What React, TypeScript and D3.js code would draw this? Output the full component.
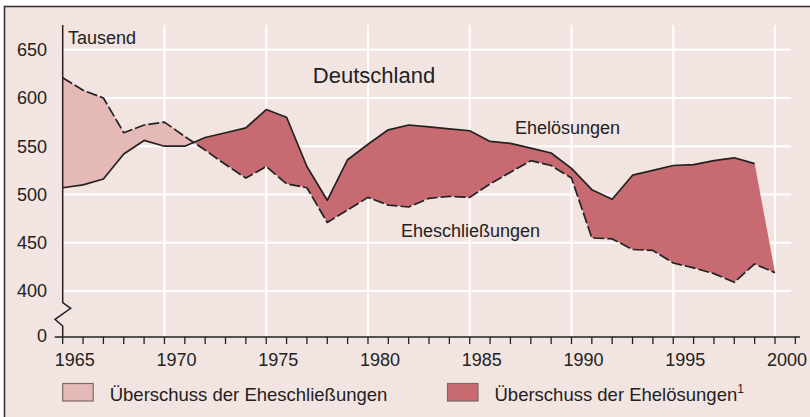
import * as d3 from 'd3';
import React from 'react';

// Eheschließungen und Ehelösungen in Deutschland, in Tausend
const years = [
  1965, 1966, 1967, 1968, 1969, 1970, 1971, 1972, 1973, 1974, 1975, 1976,
  1977, 1978, 1979, 1980, 1981, 1982, 1983, 1984, 1985, 1986, 1987, 1988,
  1989, 1990, 1991, 1992, 1993, 1994, 1995, 1996, 1997, 1998, 1999, 2000,
];
const eheschliessungen = [
  621, 608, 600, 564, 572, 575, 560, 546, 531, 517, 529, 511,
  507, 471, 484, 497, 489, 487, 496, 498, 497, 511, 523, 535,
  530, 517, 455, 454, 443, 442, 429, 424, 418, 409, 428, 419,
];
// Ehelösungen reichen nur bis 1999
const eheloesungen = [
  507, 510, 516, 542, 556, 550, 550, 559, 564, 569, 588, 580,
  529, 494, 536, 552, 567, 572, 570, 568, 566, 555, 553, 548,
  543, 527, 505, 495, 520, 525, 530, 531, 535, 538, 532,
];
const yTicks = [400, 450, 500, 550, 600, 650];
const xLabels = [1965, 1970, 1975, 1980, 1985, 1990, 1995, 2000];
const legendLabels = ['Überschuss der Eheschließungen', 'Überschuss der Ehelösungen'];
const legendColors = ['#e5b9b6', '#c86a71'];

const W = 810;
const H = 417;
const FONT = '"Liberation Sans", Arial, Helvetica, sans-serif';
const INK = '#222';

export default function App() {
  const x = d3.scaleLinear().domain([1965, 2000]).range([62.7, 775]);
  const y = d3.scaleLinear().domain([400, 650]).range([291, 49.7]);
  const yZero = 337;
  const plotTop = 25;
  const gridRight = 791;
  const axisRight = 800;
  const axisX = x(1965);

  // fill boundary: after 1999 the area closes on the marriage value
  const rows = years.map((yr, i) => ({
    yr,
    m: eheschliessungen[i],
    d: i < eheloesungen.length ? eheloesungen[i] : eheschliessungen[i],
  }));
  const band = d3.area<any>().x(r => x(r.yr)).y0(r => y(r.m)).y1(r => y(r.d));
  const aboveM = d3.area<any>().x(r => x(r.yr)).y0(r => y(r.m)).y1(0);
  const belowM = d3.area<any>().x(r => x(r.yr)).y0(r => y(r.m)).y1(H);

  const lineM = d3.line<number>().x((v, i) => x(years[i])).y(v => y(v));
  const lineD = d3.line<number>().x((v, i) => x(years[i])).y(v => y(v));

  const tickYears = d3.range(1965, 2002);

  return (
    <svg width={W} height={H} style={{ position: 'absolute', left: 0, top: 0 }} fontFamily={FONT}>
      <defs>
        <clipPath id="clipAbove"><path d={aboveM(rows) || ''} /></clipPath>
        <clipPath id="clipBelow"><path d={belowM(rows) || ''} /></clipPath>
      </defs>
      <rect x={0} y={0} width={W} height={H} fill="#fff" />
      <rect x={4.5} y={6.5} width={W} height={H} fill="#f2e4e1" stroke="#3a3333" strokeWidth={1.6} />

      {/* grid */}
      {yTicks.map(t => (
        <line key={'gy' + t} x1={axisX} x2={gridRight} y1={y(t)} y2={y(t)} stroke="#fff" strokeWidth={2} />
      ))}
      {xLabels.slice(1).map(t => (
        <line key={'gx' + t} x1={x(t)} x2={x(t)} y1={plotTop} y2={yZero} stroke="#fff" strokeWidth={2} />
      ))}

      {/* difference areas */}
      <path d={band(rows) || ''} fill="#e5b9b6" clipPath="url(#clipBelow)" />
      <path d={band(rows) || ''} fill="#c86a71" clipPath="url(#clipAbove)" />

      {/* lines */}
      <path d={lineD(eheloesungen) || ''} fill="none" stroke={INK} strokeWidth={1.7} strokeLinejoin="round" />
      <path d={lineM(eheschliessungen) || ''} fill="none" stroke={INK} strokeWidth={1.7} strokeDasharray="11,3" strokeLinejoin="round" />

      {/* y axis with break */}
      <path
        d={`M${axisX},${plotTop} V302.7 L${axisX + 8},308.3 L${axisX - 7.7},319.3 L${axisX},326 V${yZero}`}
        fill="none" stroke={INK} strokeWidth={1.5}
      />
      <line x1={axisX - 8} x2={axisX} y1={yZero} y2={yZero} stroke={INK} strokeWidth={1.5} />
      {yTicks.map(t => (
        <text key={'ly' + t} x={47} y={y(t) + 6.3} textAnchor="end" fontSize={18} fill={INK}>{t}</text>
      ))}
      <text x={47} y={yZero + 5} textAnchor="end" fontSize={18} fill={INK}>0</text>
      <text x={68} y={44} fontSize={18} fill={INK}>Tausend</text>

      {/* x axis */}
      <line x1={axisX} x2={axisRight} y1={yZero} y2={yZero} stroke={INK} strokeWidth={1.5} />
      {tickYears.map(t => (
        <line key={'tx' + t} x1={x(t)} x2={x(t)} y1={yZero} y2={yZero + 7} stroke={INK} strokeWidth={1.3} />
      ))}
      {xLabels.map(t => (
        <text key={'lx' + t} x={x(t) + 12} y={366} textAnchor="middle" fontSize={18} fill={INK}>{t}</text>
      ))}

      {/* annotations */}
      <text x={374} y={83} textAnchor="middle" fontSize={22} fill={INK}>Deutschland</text>
      <text x={515} y={134} fontSize={18} fill={INK}>Ehelösungen</text>
      <text x={401} y={237} fontSize={18} fill={INK}>Eheschließungen</text>

      {/* legend */}
      {legendLabels.map((lab, i) => {
        const lx = i === 0 ? 62.7 : 447.5;
        return (
          <g key={lab}>
            <rect x={lx} y={383.5} width={30.5} height={17.5} fill={legendColors[i]} stroke="#7e6866" strokeWidth={1.2} />
            <text x={lx + 47} y={401} fontSize={18.5} fill={INK}>
              {lab}
              {i === 1 && <tspan dy={-8} fontSize={12}>1</tspan>}
            </text>
          </g>
        );
      })}
    </svg>
  );
}
